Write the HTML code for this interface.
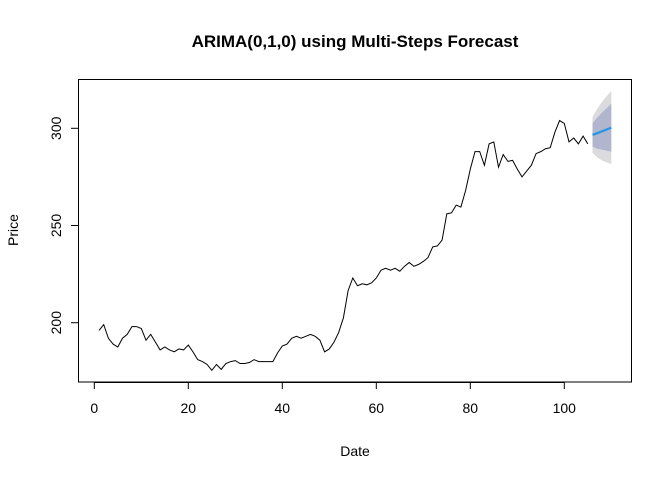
<!DOCTYPE html>
<html><head><meta charset="utf-8"><style>
html,body{margin:0;padding:0;background:#fff;}
svg{display:block;font-family:"Liberation Sans",Arial,sans-serif;}
</style></head><body>
<svg id="chart" width="672" height="480" viewBox="0 0 672 480">
<rect width="672" height="480" fill="#fff"/>
<text x="355" y="47" text-anchor="middle" font-size="17" font-weight="bold">ARIMA(0,1,0) using Multi-Steps Forecast</text>
<text x="355" y="456" text-anchor="middle" font-size="14">Date</text>
<text x="0" y="0" transform="translate(18,230) rotate(-90)" text-anchor="middle" font-size="14">Price</text>
<g id="fan"></g>
<g id="series"></g>
<g id="xaxis"></g>
<g id="yaxis"></g>
<rect x="78.5" y="79.5" width="553" height="302.5" fill="none" stroke="#000" stroke-width="1"/>
</svg>
<script>
const prices = [196,199,192,189,187.5,192,194,198,198,197,191,194,190,186,187.5,186,185,186.5,186,188.5,185,181,180,178.5,175.5,178.5,176,179,180,180.5,179,179,179.5,181,180,180,180,180,184.5,188,189,192,193,192,193,194,193,191,185,186.5,190,195,202.5,216.5,223,219,220,219.5,220.5,223,227,228,227,228,226.5,229,231,229,230,231.5,233.5,239,239.5,242.5,256,256.5,260.5,259.5,268,279,288,288,281,292,293,280,286.5,283,283.5,279,275,278,281,287,288,289.5,290,298,304,302.5,293,295,292,296,292];
const fcMean = [296.6,297.5,298.4,299.4,300.3];
const fcLo80 = [290.6,289.5,289,288.5,288];
const fcHi80 = [302.6,305.5,308,310.3,312.6];
const fcLo95 = [287.4,285,283.5,282.5,281.6];
const fcHi95 = [305.8,310,313.5,316.5,319.3];
const xTicks = [0,20,40,60,80,100];
const yTicks = [200,250,300];

const NS="http://www.w3.org/2000/svg";
function X(t){return 94.3+4.7*t;}
function Y(v){return 322.7-(v-200)*1.944;}
function mk(tag,attrs,parent){const e=document.createElementNS(NS,tag);for(const k in attrs)e.setAttribute(k,attrs[k]);parent.appendChild(e);return e;}

const fan=document.getElementById('fan');
const n=prices.length;
function band(lo,hi,color,name){
  let pts=[];
  for(let i=0;i<hi.length;i++)pts.push(X(n+1+i)+','+Y(hi[i]));
  for(let i=lo.length-1;i>=0;i--)pts.push(X(n+1+i)+','+Y(lo[i]));
  const p=mk('polygon',{points:pts.join(' '),fill:color},fan);
  
  
}
band(fcLo95,fcHi95,'#DBDBDF','interval-95');
band(fcLo80,fcHi80,'#B1B5CE','interval-80');

const ser=document.getElementById('series');
const line=mk('polyline',{points:prices.map((v,i)=>X(i+1)+','+Y(v)).join(' '),fill:'none',stroke:'#000','stroke-width':1},ser);


const fl=mk('polyline',{points:fcMean.map((v,i)=>X(n+1+i)+','+Y(v)).join(' '),fill:'none',stroke:'#2297E6','stroke-width':2.2},ser);



const xa=document.getElementById('xaxis');
mk('line',{x1:X(xTicks[0]),x2:X(xTicks[xTicks.length-1]),y1:382.5,y2:382.5,stroke:'#000'},xa);
xTicks.forEach(t=>{
  const tk=mk('line',{x1:X(t),x2:X(t),y1:382,y2:389,stroke:'#000'},xa);
  
  
  const lb=mk('text',{x:X(t),y:413,'text-anchor':'middle','font-size':14},xa);
  lb.textContent=t;
  
  
});
const ya=document.getElementById('yaxis');
mk('line',{x1:78.5,x2:78.5,y1:Y(yTicks[0]),y2:Y(yTicks[yTicks.length-1]),stroke:'#000'},ya);
yTicks.forEach(v=>{
  const tk=mk('line',{x1:71,x2:78.5,y1:Y(v),y2:Y(v),stroke:'#000'},ya);
  
  
  const lb=mk('text',{x:0,y:0,transform:'translate(61,'+Y(v)+') rotate(-90)','text-anchor':'middle','font-size':14},ya);
  lb.textContent=v;
  
  
});
</script>
</body></html>
